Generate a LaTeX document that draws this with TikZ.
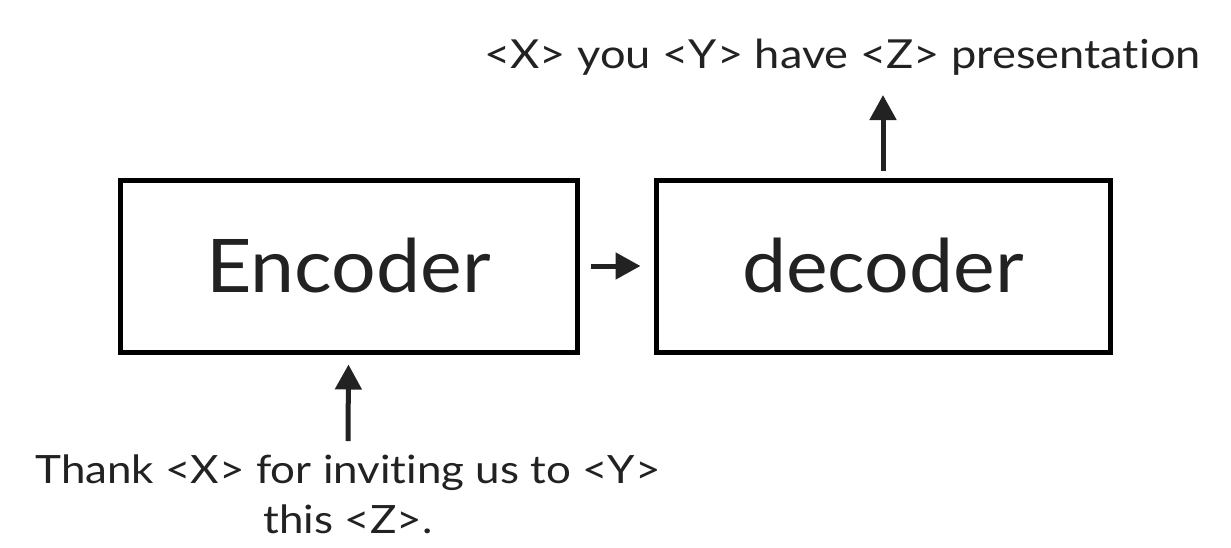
\documentclass[tikz,border=0pt]{standalone}
\usepackage{fontspec}
\setmainfont{Lato}[Ligatures={NoCommon}]
\usetikzlibrary{arrows.meta}
\definecolor{ink}{HTML}{222222}
\newcommand{\wide}[2]{\scalebox{#1}[1]{#2}}
\tikzset{
  blockbox/.style={draw=black, line width=5pt, inner sep=0pt, text=ink,
    font=\fontsize{74}{80}\selectfont, minimum height=172pt},
  conn/.style={draw=ink, line width=5pt, -{Triangle[length=25pt,width=26pt]}},
  lbl/.style={font=\fontsize{39}{50}\selectfont, text=ink, inner sep=0pt, align=center}
}
\begin{document}
\begin{tikzpicture}[x=1pt,y=-1pt]
\useasboundingbox[fill=white] (0,0) rectangle (1231,547);
\node[blockbox, minimum width=457pt] (enc) at (348.5,266) {\wide{1.065}{Encoder}};
\node[blockbox, minimum width=454pt] (dec) at (883,266) {\wide{1.065}{decoder}};
\node[lbl, anchor=base, font=\fontsize{40}{50}\selectfont] (out) at (842.5,68) {\wide{1.13}{<X> you <Y> have <Z> presentation}};
\node[lbl, anchor=north] (inp) at (348,455) {\wide{1.126}{Thank <X> for inviting us to <Y>}\\\wide{1.126}{this <Z>.}};
\coordinate (outtip) at (883,95);
\draw[conn] ([xshift=11pt]enc.east) -- ([xshift=-13pt]dec.west);
\draw[conn] ([yshift=7pt]dec.north) -- (outtip);
\draw[conn] ([yshift=14pt]inp.north) -- ([yshift=-10pt]enc.south);
\end{tikzpicture}
\end{document}
